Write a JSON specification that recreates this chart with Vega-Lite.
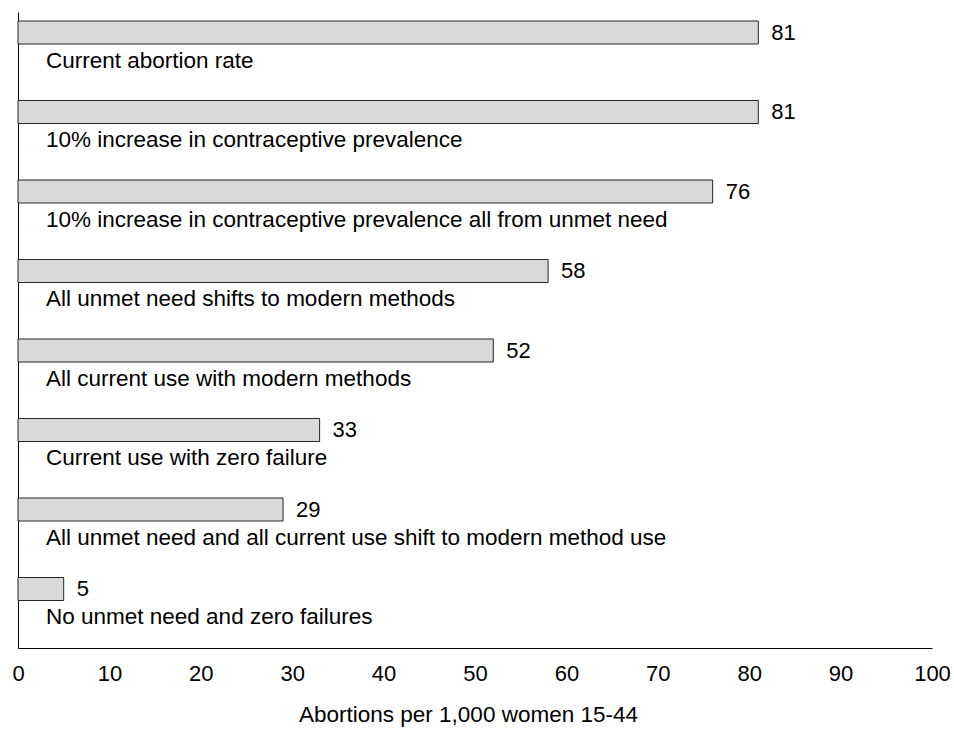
{
  "$schema": "https://vega.github.io/schema/vega-lite/v6.json",
  "width": 914,
  "height": 636,
  "autosize": "none",
  "padding": {"left": 18, "top": 12, "right": 22, "bottom": 81},
  "background": "white",
  "config": {
    "view": {"stroke": null},
    "font": "Liberation Sans"
  },
  "data": {
    "values": [
      {"scenario": "Current abortion rate", "rate": 81},
      {"scenario": "10% increase in contraceptive prevalence", "rate": 81},
      {"scenario": "10% increase in contraceptive prevalence all from unmet need", "rate": 76},
      {"scenario": "All unmet need shifts to modern methods", "rate": 58},
      {"scenario": "All current use with modern methods", "rate": 52},
      {"scenario": "Current use with zero failure", "rate": 33},
      {"scenario": "All unmet need and all current use shift to modern method use", "rate": 29},
      {"scenario": "No unmet need and zero failures", "rate": 5}
    ]
  },
  "encoding": {
    "y": {
      "field": "scenario",
      "type": "nominal",
      "sort": null,
      "scale": {"paddingInner": 0, "paddingOuter": 0},
      "axis": {"labels": false, "ticks": false, "domain": true, "domainColor": "#000000", "domainWidth": 1, "title": null}
    }
  },
  "layer": [
    {
      "mark": {"type": "bar", "size": 23, "yOffset": -19.25, "fill": "#d9d9d9", "stroke": "#262626", "strokeWidth": 1},
      "encoding": {
        "x": {
          "field": "rate",
          "type": "quantitative",
          "scale": {"domain": [0, 100], "nice": false},
          "axis": {
            "values": [0, 10, 20, 30, 40, 50, 60, 70, 80, 90, 100],
            "grid": false,
            "ticks": false,
            "domainColor": "#000000",
            "domainWidth": 1,
            "labelFontSize": 22,
            "labelColor": "#000000",
            "labelPadding": 15,
            "labelFlush": false,
            "title": "Abortions per 1,000 women 15-44",
            "titleFontSize": 22.5,
            "titleFontWeight": "normal",
            "titleColor": "#000000",
            "titlePadding": 19,
            "titleX": 450
          }
        }
      }
    },
    {
      "mark": {"type": "text", "align": "left", "baseline": "middle", "dx": 13, "yOffset": -19.25, "fontSize": 22, "color": "#000000"},
      "encoding": {
        "x": {"field": "rate", "type": "quantitative"},
        "text": {"field": "rate", "type": "quantitative"}
      }
    },
    {
      "mark": {"type": "text", "align": "left", "baseline": "alphabetic", "dx": 28, "yOffset": 16, "fontSize": 22.5, "color": "#000000"},
      "encoding": {
        "x": {"datum": 0, "type": "quantitative"},
        "text": {"field": "scenario", "type": "nominal"}
      }
    }
  ]
}
